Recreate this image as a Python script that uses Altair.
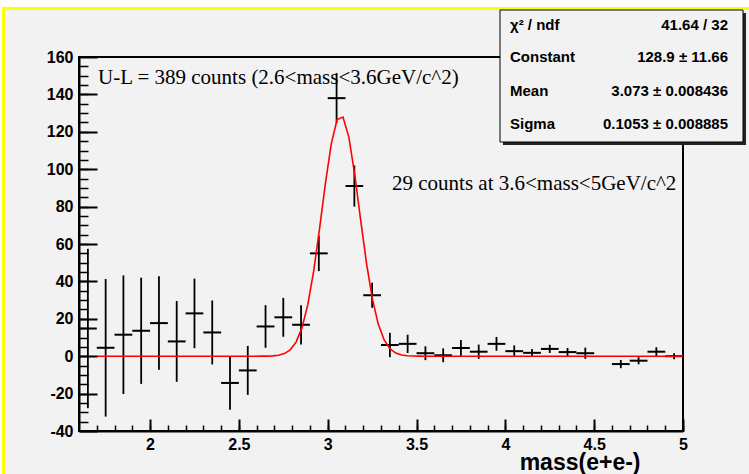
import altair as alt
import pandas as pd

# ---------------- data ----------------
bin_centers = [1.65, 1.75, 1.85, 1.95, 2.05, 2.15, 2.25, 2.35, 2.45, 2.55,
               2.65, 2.75, 2.85, 2.95, 3.05, 3.15, 3.25, 3.35, 3.45, 3.55,
               3.65, 3.75, 3.85, 3.95, 4.05, 4.15, 4.25, 4.35, 4.45, 4.65,
               4.75, 4.85, 4.95]
counts = [14.8, 4.5, 11.5, 13.6, 17.7, 7.9, 22.9, 12.7, -14.3, -7.6,
          15.9, 20.8, 16.8, 55.0, 138.0, 91.0, 32.6, 6.0, 6.6, 1.6,
          0.5, 4.4, 2.4, 6.6, 2.7, 1.8, 3.9, 2.2, 1.6, -4.2,
          -2.4, 2.4, 0.0]
count_errors = [42.6, 36.8, 31.7, 28.4, 25.0, 21.6, 18.6, 17.1, 14.3, 13.1,
                11.4, 10.4, 10.5, 9.5, 13.4, 11.0, 6.7, 6.5, 4.9, 3.7,
                3.7, 4.3, 3.8, 3.7, 3.1, 2.0, 2.2, 2.2, 3.0, 2.2,
                1.9, 2.4, 1.6]
bin_width = 0.1

# Gaussian fit (parameters from the stats box)
fit_constant = 128.9
fit_mean = 3.073
fit_sigma = 0.1053
fit_start, fit_stop, fit_npx = 1.7, 5.0, 100

stat_labels = ["χ² / ndf", "Constant", "Mean", "Sigma"]
stat_values = ["41.64 / 32", "128.9 ± 11.66", "3.073 ± 0.008436", "0.1053 ± 0.008885"]

annotations = ["U-L = 389 counts (2.6<mass<3.6GeV/c^2)",
               "29 counts at 3.6<mass<5GeV/c^2"]

x_title = "mass(e+e-)"
x_domain = [1.6, 5.0]
y_domain = [-40, 160]
x_major = [2, 2.5, 3, 3.5, 4, 4.5, 5]
x_minor = [round(1.7 + 0.1 * i, 1) for i in range(34)]
y_major = [-40, -20, 0, 20, 40, 60, 80, 100, 120, 140, 160]
y_minor = list(range(-35, 160, 5))

# ---------------- styling ----------------
SANS = "Liberation Sans"
SERIF = "Liberation Serif"
BG = "#f2f2f2"
W, H = 604, 374

df = pd.DataFrame({"mass": bin_centers, "count": counts, "err": count_errors})
df["lo"] = df["count"] - df["err"]
df["hi"] = df["count"] + df["err"]
df["xlo"] = df["mass"] - bin_width / 2
df["xhi"] = df["mass"] + bin_width / 2

xs = alt.Scale(domain=x_domain, nice=False, zero=False)
ys = alt.Scale(domain=y_domain, nice=False, zero=False)

one = pd.DataFrame({"k": [0]})

x_axis_main = alt.Axis(orient="bottom", values=x_major, labelExpr="toString(datum.value)",
                       ticks=False, tickSize=0,
                       domain=True, domainColor="black", domainWidth=2, grid=False, zindex=1,
                       labelFont=SANS, labelFontWeight="bold", labelFontSize=16, labelColor="black",
                       labelPadding=5, labelFlush=False, labelOverlap=False,
                       title=x_title, titleFont=SANS, titleFontWeight="bold", titleFontSize=23,
                       titleColor="black", titleX=561, titleY=38, titleAlign="right",
                       titleBaseline="alphabetic")
y_axis_main = alt.Axis(orient="left", values=y_major, labelExpr="toString(datum.value)",
                       ticks=False, tickSize=0,
                       domain=True, domainColor="black", domainWidth=2, grid=False, zindex=1,
                       labelFont=SANS, labelFontWeight="bold", labelFontSize=16, labelColor="black",
                       labelPadding=6, labelFlush=False, labelOverlap=False, title="")

x_axis_major = alt.Axis(orient="bottom", values=x_major, offset=-12, tickSize=12, tickWidth=2,
                        tickColor="black", labels=False, domain=False, grid=False, title="", zindex=1)
y_axis_major = alt.Axis(orient="left", values=y_major, offset=-18, tickSize=18, tickWidth=2,
                        tickColor="black", labels=False, domain=False, grid=False, title="", zindex=1)
x_axis_minor = alt.Axis(orient="bottom", values=x_minor, offset=-6, tickSize=6, tickWidth=1.5,
                        tickColor="black", labels=False, domain=False, grid=False, title="", zindex=1)
y_axis_minor = alt.Axis(orient="left", values=y_minor, offset=-9, tickSize=9, tickWidth=1.5,
                        tickColor="black", labels=False, domain=False, grid=False, title="", zindex=1)

# white strips outside the yellow frame (top/left) and the yellow frame lines
top_strip = alt.Chart(one).mark_rect(fill="white").encode(
    x=alt.value(-79), x2=alt.value(670), y=alt.value(-57), y2=alt.value(-50))
left_strip = alt.Chart(one).mark_rect(fill="white").encode(
    x=alt.value(-79), x2=alt.value(-77), y=alt.value(-57), y2=alt.value(417))
top_yellow = alt.Chart(one).mark_rect(fill="#ffff00").encode(
    x=alt.value(-77), x2=alt.value(670), y=alt.value(-50), y2=alt.value(-47))
left_yellow = alt.Chart(one).mark_rect(fill="#ffff00").encode(
    x=alt.value(-77), x2=alt.value(-74), y=alt.value(-50), y2=alt.value(417))

vbars = alt.Chart(df).mark_rule(color="black", strokeWidth=1.8).encode(
    x=alt.X("mass:Q", scale=xs, axis=x_axis_main),
    y=alt.Y("lo:Q", scale=ys, axis=y_axis_main),
    y2="hi:Q")

hbars = alt.Chart(df).mark_rule(color="black", strokeWidth=2).encode(
    x=alt.X("xlo:Q", scale=xs, axis=x_axis_major),
    x2="xhi:Q",
    y=alt.Y("count:Q", scale=ys, axis=y_axis_major))

fit_step = (fit_stop - fit_start) / fit_npx
fit = alt.Chart(alt.sequence(fit_start, fit_stop + fit_step / 2, fit_step, as_="mass")).transform_calculate(
    fit=f"{fit_constant}*exp(-0.5*pow((datum.mass-{fit_mean})/{fit_sigma},2))"
).mark_line(color="#ff0000", strokeWidth=1.6).encode(
    x=alt.X("mass:Q", scale=xs, axis=x_axis_minor),
    y=alt.Y("fit:Q", scale=ys, axis=y_axis_minor))

ann1 = alt.Chart(one).mark_text(font=SERIF, fontSize=21, color="black", align="left",
                                baseline="middle").encode(
    x=alt.value(19), y=alt.value(21), text=alt.value(annotations[0]))
ann2 = alt.Chart(one).mark_text(font=SERIF, fontSize=21, color="black", align="left",
                                baseline="middle").encode(
    x=alt.value(313), y=alt.value(127), text=alt.value(annotations[1]))

# stats box
shadow = alt.Chart(one).mark_rect(fill="#222222").encode(
    x=alt.value(424), x2=alt.value(667), y=alt.value(-44), y2=alt.value(88))
box = alt.Chart(one).mark_rect(fill=BG, stroke="black", strokeWidth=1).encode(
    x=alt.value(421), x2=alt.value(664), y=alt.value(-47), y2=alt.value(85))

row_y = [-32, 0, 34, 67]
stat_layers = []
for lab, val, yy in zip(stat_labels, stat_values, row_y):
    stat_layers.append(alt.Chart(one).mark_text(font=SANS, fontWeight="bold", fontSize=15,
                                                color="black", align="left", baseline="middle").encode(
        x=alt.value(431), y=alt.value(yy), text=alt.value(lab)))
    stat_layers.append(alt.Chart(one).mark_text(font=SANS, fontWeight="bold", fontSize=15,
                                                color="black", align="right", baseline="middle").encode(
        x=alt.value(649), y=alt.value(yy), text=alt.value(val)))

chart = alt.layer(top_strip, left_strip, top_yellow, left_yellow, vbars, hbars, fit, ann1, ann2,
                  shadow, box, *stat_layers).resolve_axis(
    x="independent", y="independent"
).properties(
    width=W, height=H,
    autosize=alt.AutoSizeParams(type="none"),
    padding={"left": 79, "top": 57, "right": 66, "bottom": 43},
    background=BG,
).configure_view(stroke="black", strokeWidth=2)

chart.save("out.html", embed_options={"renderer": "svg", "actions": False})
